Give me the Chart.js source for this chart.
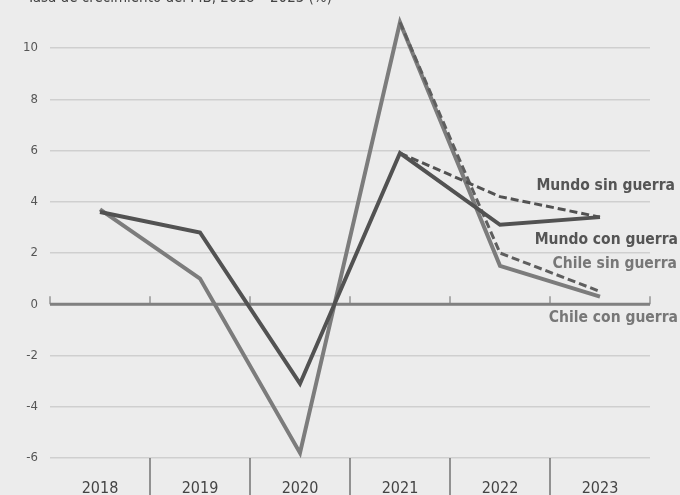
<!DOCTYPE html>
<html lang="es">
<head>
<meta charset="utf-8">
<script src="https://cdn.jsdelivr.net/npm/chart.js@4/dist/chart.umd.min.js"></script>
<style>
    html, body {
        margin: 0;
        padding: 0;
        background: #ececec;
    }

    #wrap {
        position: relative;
        width: 680px;
        height: 495px;
        overflow: hidden;
    }

    #title {
        position: absolute;
        top: -12px;
        left: 27px;
        font: 15px "DejaVu Sans Condensed", "DejaVu Sans", sans-serif;
        color: #444;
        white-space: nowrap;
    }
</style>
</head>
<body>
<div id="wrap">
    <div id="title">Tasa de crecimiento del PIB, 2018 – 2023 (%)</div>
    <canvas id="pibChart" width="680" height="495"></canvas>
</div>

<script>
    const years = ["2018", "2019", "2020", "2021", "2022", "2023"];

    const mundoConGuerra = [3.6, 2.8, -3.1, 5.9, 3.1, 3.4];
    const mundoSinGuerra = [null, null, null, 5.9, 4.2, 3.4];
    const chileConGuerra = [3.7, 1.0, -5.8, 11.0, 1.5, 0.3];
    const chileSinGuerra = [null, null, null, 11.0, 2.0, 0.5];

    const yTicks = [-6, -4, -2, 0, 2, 4, 6, 8, 10];

    const seriesLabels = ["Mundo sin guerra", "Mundo con guerra", "Chile sin guerra", "Chile con guerra"];

    const DARK = "#525252";
    const LIGHT = "#7c7c7c";
    const CONDENSED = '"DejaVu Sans Condensed", "DejaVu Sans", sans-serif';

    // zero axis line, its small ticks and the year dividers below the plot
    const axisDecor = {
        id: "axisDecor",
        beforeDatasetsDraw(chart) {
            const { ctx, chartArea, scales } = chart;
            const x = scales.x;
            const y0 = scales.y.getPixelForValue(0);
            const step = x.getPixelForValue(1) - x.getPixelForValue(0);

            ctx.save();
            ctx.strokeStyle = "#808080";
            ctx.lineWidth = 3;
            ctx.beginPath();
            ctx.moveTo(chartArea.left, y0);
            ctx.lineTo(chartArea.right, y0);
            ctx.stroke();

            ctx.lineWidth = 1.2;
            for (let i = 0; i <= years.length; i++) {
                const px = x.getPixelForValue(0) - step / 2 + i * step;
                ctx.beginPath();
                ctx.moveTo(px, y0);
                ctx.lineTo(px, y0 - 8);
                ctx.stroke();
            }
            ctx.restore();
        },
        afterDraw(chart) {
            const { ctx, chartArea, scales } = chart;
            const x = scales.x;
            const step = x.getPixelForValue(1) - x.getPixelForValue(0);

            ctx.save();
            ctx.strokeStyle = "#555";
            ctx.lineWidth = 1.2;
            for (let i = 1; i < years.length; i++) {
                const px = x.getPixelForValue(i) - step / 2;
                ctx.beginPath();
                ctx.moveTo(px, chartArea.bottom);
                ctx.lineTo(px, chart.height);
                ctx.stroke();
            }

            // series names on the right
            ctx.font = "bold 15.5px " + CONDENSED;
            ctx.textAlign = "right";
            ctx.textBaseline = "middle";
            ctx.fillStyle = "#555";
            ctx.fillText(seriesLabels[0], 675, 186);
            ctx.fillText(seriesLabels[1], 678, 240);
            ctx.fillStyle = "#777";
            ctx.fillText(seriesLabels[2], 677, 264);
            ctx.fillText(seriesLabels[3], 678, 318);
            ctx.restore();
        },
    };

    new Chart(document.getElementById("pibChart").getContext("2d"), {
        type: "line",

        data: {
            labels: years,

            datasets: [
                {
                    label: "Chile con guerra",
                    data: chileConGuerra,
                    borderColor: LIGHT,
                    borderWidth: 4,
                    pointRadius: 0,
                    tension: 0,
                    clip: false,
                    order: 4,
                },
                {
                    label: "Chile sin guerra",
                    data: chileSinGuerra,
                    borderColor: "#5e5e5e",
                    borderWidth: 3,
                    borderDash: [8, 4],
                    pointRadius: 0,
                    tension: 0,
                    clip: false,
                    order: 3,
                },
                {
                    label: "Mundo con guerra",
                    data: mundoConGuerra,
                    borderColor: DARK,
                    borderWidth: 4,
                    pointRadius: 0,
                    tension: 0,
                    clip: false,
                    order: 2,
                },
                {
                    label: "Mundo sin guerra",
                    data: mundoSinGuerra,
                    borderColor: DARK,
                    borderWidth: 3,
                    borderDash: [8, 4],
                    pointRadius: 0,
                    tension: 0,
                    clip: false,
                    order: 1,
                },
            ],
        },

        options: {
            responsive: false,
            animation: false,
            events: [],

            layout: {
                padding: { top: 48, right: 30, left: 0, bottom: 0 },
            },

            scales: {
                x: {
                    offset: true,
                    grid: { display: false },
                    border: { display: false },
                    ticks: {
                        color: "#444",
                        padding: 13,
                        font: { family: CONDENSED, size: 16 },
                    },
                    afterFit(scale) {
                        scale.height = 37;
                    },
                },

                y: {
                    min: -6,
                    max: 10,
                    afterBuildTicks(scale) {
                        scale.ticks = yTicks.map((v) => ({ value: v }));
                    },
                    grid: {
                        color: "#cfcfcf",
                        lineWidth: 1.5,
                        drawTicks: false,
                    },
                    border: { display: false },
                    ticks: {
                        color: "#555",
                        padding: 12,
                        font: { family: CONDENSED, size: 13 },
                    },
                    afterFit(scale) {
                        scale.width = 50;
                    },
                },
            },

            plugins: {
                legend: { display: false },
                tooltip: { enabled: false },
            },
        },

        plugins: [axisDecor],
    });
</script>
</body>
</html>
